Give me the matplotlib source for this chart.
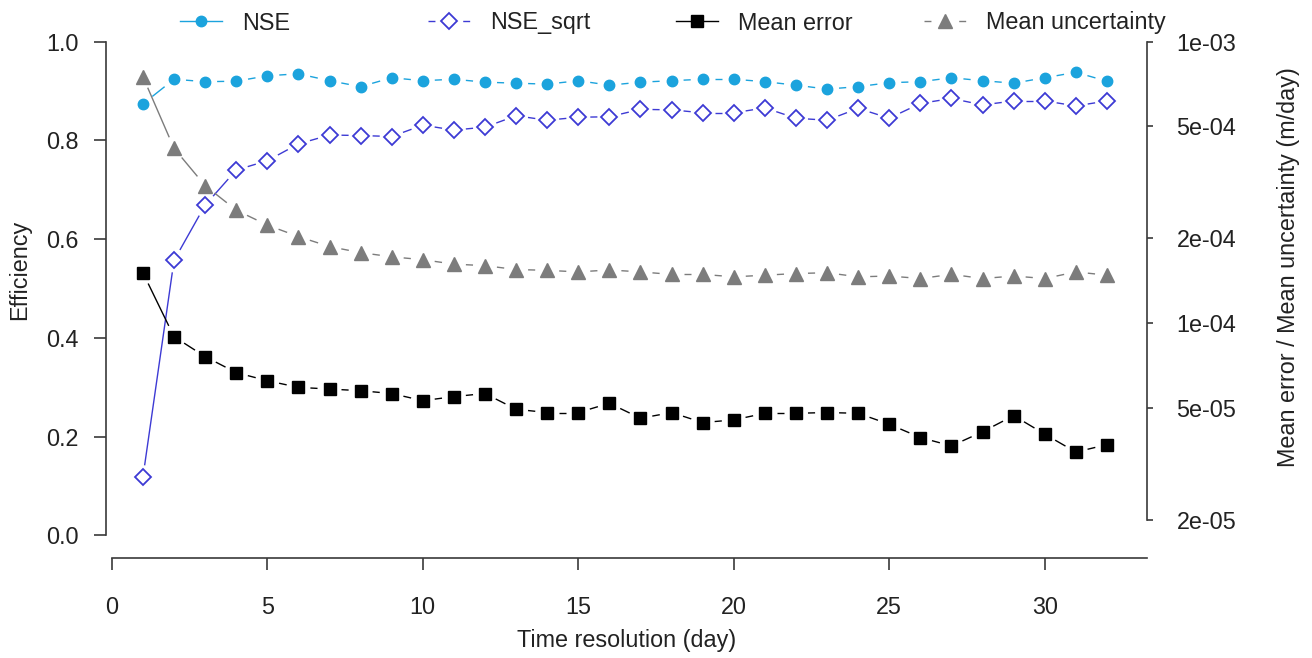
import numpy as np
import matplotlib
matplotlib.use("Agg")
import matplotlib.pyplot as plt
from matplotlib.lines import Line2D
from matplotlib.ticker import FixedLocator, FixedFormatter, NullLocator

plt.rcParams["font.family"] = ["Liberation Sans", "DejaVu Sans"]

# time resolution (days)
days = list(range(1, 33))

nse = [0.874, 0.924, 0.919, 0.920, 0.931, 0.935, 0.921, 0.909, 0.927, 0.921,
       0.924, 0.918, 0.916, 0.914, 0.921, 0.912, 0.918, 0.921, 0.924, 0.924,
       0.919, 0.912, 0.904, 0.909, 0.917, 0.919, 0.927, 0.921, 0.916, 0.927,
       0.938, 0.920]
nse_sqrt = [0.118, 0.557, 0.669, 0.740, 0.759, 0.793, 0.811, 0.810, 0.808, 0.831,
            0.821, 0.827, 0.850, 0.841, 0.847, 0.848, 0.863, 0.862, 0.856, 0.856,
            0.866, 0.845, 0.841, 0.865, 0.845, 0.875, 0.885, 0.872, 0.880, 0.880,
            0.870, 0.880]
mean_error = [1.51e-4, 8.95e-5, 7.60e-5, 6.67e-5, 6.24e-5, 5.91e-5, 5.83e-5, 5.75e-5,
              5.62e-5, 5.30e-5, 5.48e-5, 5.62e-5, 4.94e-5, 4.81e-5, 4.81e-5, 5.19e-5,
              4.59e-5, 4.81e-5, 4.43e-5, 4.53e-5, 4.78e-5, 4.78e-5, 4.81e-5, 4.78e-5,
              4.37e-5, 3.92e-5, 3.66e-5, 4.11e-5, 4.69e-5, 4.03e-5, 3.48e-5, 3.70e-5]
mean_unc = [7.51e-4, 4.18e-4, 3.08e-4, 2.52e-4, 2.23e-4, 2.03e-4, 1.87e-4, 1.78e-4,
            1.72e-4, 1.68e-4, 1.62e-4, 1.60e-4, 1.55e-4, 1.54e-4, 1.52e-4, 1.545e-4,
            1.52e-4, 1.49e-4, 1.49e-4, 1.46e-4, 1.48e-4, 1.50e-4, 1.51e-4, 1.46e-4,
            1.47e-4, 1.44e-4, 1.49e-4, 1.44e-4, 1.47e-4, 1.44e-4, 1.52e-4, 1.48e-4]

eff_ticks = [0.0, 0.2, 0.4, 0.6, 0.8, 1.0]
eff_labels = ["0.0", "0.2", "0.4", "0.6", "0.8", "1.0"]
err_ticks = [1e-3, 5e-4, 2e-4, 1e-4, 5e-5, 2e-5]
err_labels = ["1e-03", "5e-04", "2e-04", "1e-04", "5e-05", "2e-05"]
x_ticks = [0, 5, 10, 15, 20, 25, 30]

c_nse = "#1ba3dd"
c_sqrt = "#3d3ad4"
c_err = "#000000"
c_unc = "#7c7c7c"
axc = "#3a3a3a"
fs = 16.8

W, H = 1312, 658
fig = plt.figure(figsize=(W / 100, H / 100), dpi=100)
left, right, top, bottom = 105.6, 1147.4, 22, 558
ax = fig.add_axes([left / W, 1 - bottom / H, (right - left) / W, (bottom - top) / H])
ax.set_xlim(-0.2, 33.3)
ax.set_ylim(-0.0456, 1.0399)
ax2 = ax.twinx()
ax2.set_yscale("log")
ax2.set_ylim(10 ** -4.8348, 10 ** -2.930)


def type_b(a, x, y, color, gap=12, lw=1.0):
    # R style type="b": line segments stop short of the points
    pts = a.transData.transform(np.column_stack([x, y]))
    inv = a.transData.inverted()
    for p0, p1 in zip(pts[:-1], pts[1:]):
        d = p1 - p0
        n = np.hypot(*d)
        if n <= 2 * gap:
            continue
        u = d / n
        seg = inv.transform(np.array([p0 + u * gap, p1 - u * gap]))
        a.plot(seg[:, 0], seg[:, 1], color=color, lw=lw, solid_capstyle="butt")


type_b(ax, days, nse, c_nse)
ax.plot(days, nse, ls="none", marker="o", ms=7.5, color=c_nse, mec=c_nse)
type_b(ax, days, nse_sqrt, c_sqrt)
ax.plot(days, nse_sqrt, ls="none", marker="D", ms=8, mfc="none", mec=c_sqrt, mew=1.3)
type_b(ax2, days, mean_error, c_err)
ax2.plot(days, mean_error, ls="none", marker="s", ms=8.5, color=c_err)
type_b(ax2, days, mean_unc, c_unc)
ax2.plot(days, mean_unc, ls="none", marker="^", ms=9.5, color=c_unc, mec=c_unc)

# axes styling (R-like open axes)
for s in ["top", "right"]:
    ax.spines[s].set_visible(False)
for s in ["top", "left", "bottom"]:
    ax2.spines[s].set_visible(False)
for sp in [ax.spines["left"], ax.spines["bottom"], ax2.spines["right"]]:
    sp.set_color(axc)
    sp.set_linewidth(1.2)
ax.spines["left"].set_bounds(0, 1)
ax.spines["bottom"].set_bounds(0, 33.3)
ax2.spines["right"].set_bounds(2e-5, 1e-3)

ax.xaxis.set_major_locator(FixedLocator(x_ticks))
ax.yaxis.set_major_locator(FixedLocator(eff_ticks))
ax.yaxis.set_major_formatter(FixedFormatter(eff_labels))
ax2.yaxis.set_major_locator(FixedLocator(err_ticks))
ax2.yaxis.set_major_formatter(FixedFormatter(err_labels))
ax2.yaxis.set_minor_locator(NullLocator())

ax.tick_params(axis="y", length=8.5, width=1.2, color=axc, pad=11, labelsize=fs, labelcolor="#222222")
ax.tick_params(axis="x", length=8.5, width=1.2, color=axc, pad=19, labelsize=fs, labelcolor="#222222")
ax2.tick_params(axis="y", length=4.5, width=1.2, color=axc, pad=16.5, labelsize=fs, labelcolor="#222222")

fig.text(20 / W, 1 - 270 / H, "Efficiency", rotation=90, ha="center", va="center",
         fontsize=fs, color="#222222")
fig.text(1289 / W, 1 - 267 / H, "Mean error / Mean uncertainty (m/day)", rotation=90,
         ha="center", va="center", fontsize=fs, color="#222222")
fig.text(627 / W, 1 - 640 / H, "Time resolution (day)", ha="center", va="center",
         fontsize=fs, color="#222222")

# horizontal legend with equal spacing, like R's legend(horiz=TRUE)
handles = [
    Line2D([], [], color=c_nse, lw=1, marker="o", ms=7.5, mec=c_nse),
    Line2D([], [], color=c_sqrt, lw=1, ls=(0, (5, 20)), marker="D", ms=8,
           mfc="none", mec=c_sqrt, mew=1.3),
    Line2D([], [], color=c_err, lw=1, marker="s", ms=8.5),
    Line2D([], [], color=c_unc, lw=1, ls=(0, (5, 20)), marker="^", ms=9.5, mec=c_unc),
]
labels = ["NSE", "NSE_sqrt", "Mean error", "Mean uncertainty"]
for i, (h, lab) in enumerate(zip(handles, labels)):
    fig.legend([h], [lab], loc="center left", bbox_to_anchor=((180 + 248 * i) / W, 1 - 23 / H),
               frameon=False, borderpad=0, borderaxespad=0, handlelength=1.8,
               handletextpad=0.85, fontsize=fs, labelcolor="#222222")

fig.savefig("out.png", dpi=100)
